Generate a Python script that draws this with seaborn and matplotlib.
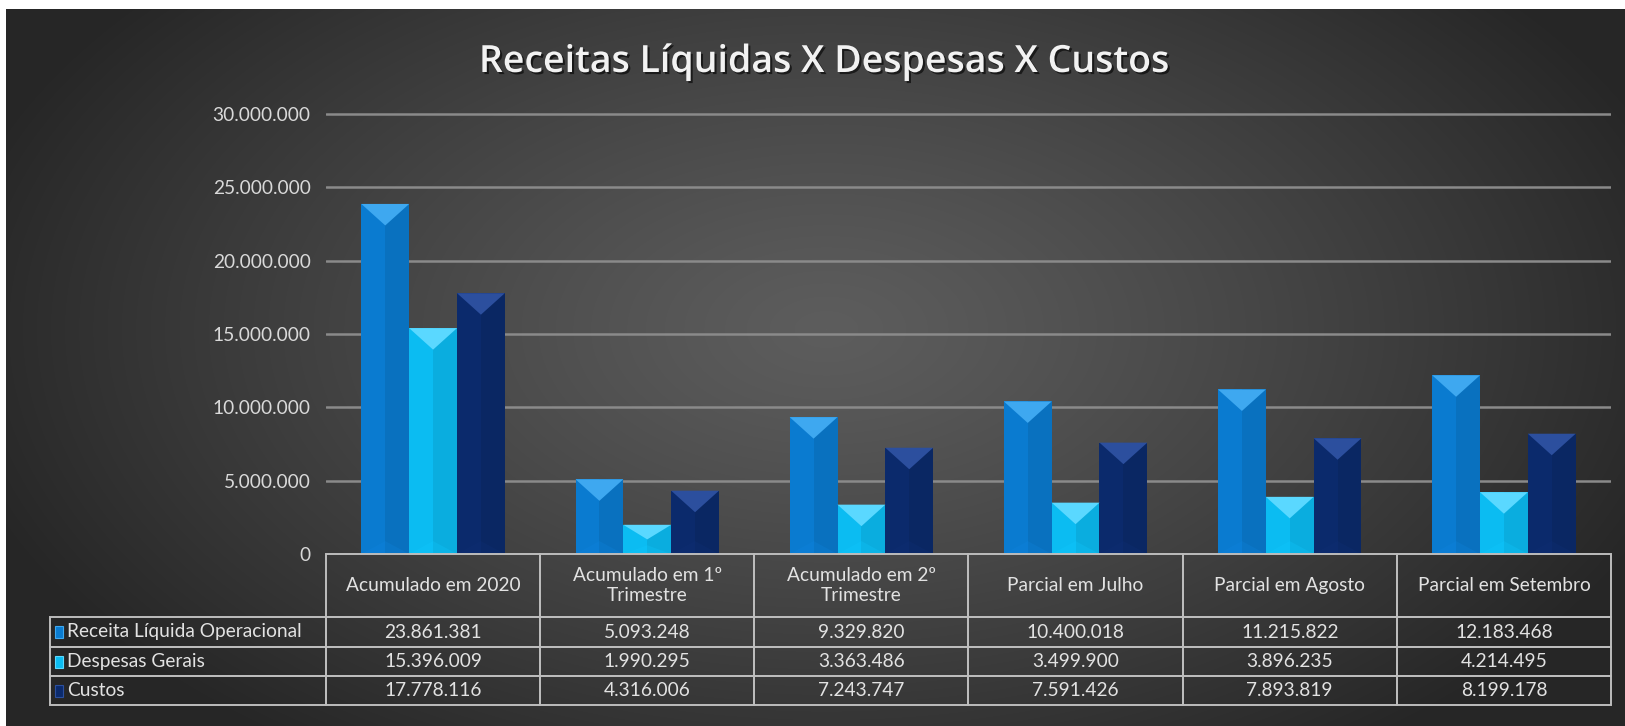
import numpy as np
import pandas as pd
import seaborn as sns
import matplotlib.pyplot as plt
import matplotlib.patheffects as pe
from matplotlib.table import Table
from matplotlib.patches import Rectangle, Polygon
from matplotlib.ticker import FuncFormatter
from matplotlib.colors import to_rgb

# data
periodos = ["Acumulado em 2020", "Acumulado em 1º\nTrimestre", "Acumulado em 2º\nTrimestre",
            "Parcial em Julho", "Parcial em Agosto", "Parcial em Setembro"]
series = ["Receita Líquida Operacional", "Despesas Gerais", "Custos"]
receita = [23861381, 5093248, 9329820, 10400018, 11215822, 12183468]
despesas = [15396009, 1990295, 3363486, 3499900, 3896235, 4214495]
custos = [17778116, 4316006, 7243747, 7591426, 7893819, 8199178]
cores = ["#0a7bd0", "#0bbcf2", "#0b2a6c"]
cores_topo = ["#3ea8f0", "#5ad8ff", "#2c4f9e"]

valores = [receita, despesas, custos]
df = pd.DataFrame({
    "periodo": periodos * 3,
    "serie": [s for s in series for _ in periodos],
    "valor": receita + despesas + custos,
})


def fmt(v):
    return f"{int(round(v)):,}".replace(",", ".")


sns.set_theme(style="dark")
plt.rcParams["font.family"] = ["Lato", "DejaVu Sans"]

W, H, DPI = 1625, 726, 100
FS = 13.8
fig = plt.figure(figsize=(W / DPI, H / DPI), dpi=DPI, facecolor="white")

# radial dark background, white margin top/left like the screenshot
bg = fig.add_axes([6 / W, 0, 1 - 6 / W, 1 - 9 / H], zorder=-10)
yy, xx = np.mgrid[0:H - 9, 0:W - 6]
d = np.sqrt(((xx - 820) / 900.0) ** 2 + ((yy - 320) / 520.0) ** 2)
t = np.clip(d, 0, 1) ** 1.2
c_in, c_out = np.array(to_rgb("#5d5d5d")), np.array(to_rgb("#262626"))
img = c_in[None, None, :] * (1 - t[..., None]) + c_out[None, None, :] * t[..., None]
bg.imshow(img, aspect="auto", interpolation="bilinear")
bg.axis("off")

# main axes
ax_l, ax_r = 326 / W, 1611 / W
ax_top_px, ax_bot_px = 108, 554
ax = fig.add_axes([ax_l, 1 - ax_bot_px / H, ax_r - ax_l, (ax_bot_px - ax_top_px) / H])
ax.set_facecolor("none")

sns.barplot(data=df, x="periodo", y="valor", hue="serie", hue_order=series,
            palette=cores, saturation=1, width=0.67, errorbar=None,
            legend=False, ax=ax, zorder=3, linewidth=0, edgecolor="none")

ax.set_ylim(0, 30.4e6)
ax.set_xlim(-0.5, len(periodos) - 0.5)
ax.set_yticks(np.arange(0, 30e6 + 1, 5e6))
ax.yaxis.set_major_formatter(FuncFormatter(lambda v, p: fmt(v)))
ax.tick_params(axis="y", length=0, pad=11, labelsize=FS, labelcolor="#d9d9d9")
ax.set_xticks([])
ax.set_xlabel("")
ax.set_ylabel("")
for s in ax.spines.values():
    s.set_visible(False)
ax.grid(False)
for v in np.arange(5e6, 30e6 + 1, 5e6):
    ax.axhline(v, color="#8a8a8a", lw=1.8, zorder=1)

# bevel effect on the bars
px_per_y = ax.transData.transform((0, 1e6))[1] - ax.transData.transform((0, 0))[1]
px_per_x = ax.transData.transform((1, 0))[0] - ax.transData.transform((0, 0))[0]
for bar in list(ax.patches):
    fc = np.array(bar.get_facecolor()[:3])
    i = int(np.argmin([np.sum((fc - np.array(to_rgb(c))) ** 2) for c in cores]))
    x, w, h = bar.get_x(), bar.get_width(), bar.get_height()
    dep = 0.45 * w * px_per_x / px_per_y * 1e6
    dep = min(dep, h / 2)
    dark = np.array(to_rgb(cores[i])) * 0.92
    ax.add_patch(Rectangle((x + w / 2, 0), w / 2, h, color=dark, lw=0, zorder=3.1))
    ax.add_patch(Polygon([(x, h), (x + w, h), (x + w / 2, h - dep)], closed=True,
                         color=cores_topo[i], lw=0, zorder=3.2))
    light = np.clip(np.array(to_rgb(cores[i])) * 1.05 + 0.02, 0, 1)
    ax.add_patch(Polygon([(x, 0), (x + w, 0), (x + w / 2, dep * 0.6)], closed=True,
                         color=light, lw=0, alpha=0.25, zorder=3.2))

# title
fig.text(0.507, 1 - 62 / H, "Receitas Líquidas X Despesas X Custos", ha="center", va="center",
         fontsize=27, fontweight="semibold", color="#f2f2f2", family=["Open Sans", "DejaVu Sans"],
         path_effects=[pe.SimplePatchShadow(offset=(1.5, -1.5), shadow_rgbFace="black", alpha=0.6),
                       pe.Normal()])

# data table under the axes
ax_w_px = (ax_r - ax_l) * W
ax_h_px = ax_bot_px - ax_top_px
tab_left_px, tab_bot_px = 50, 705
lab_w, col_w = 276, ax_w_px / len(periodos)
row_h = [63, 30, 29, 29]
tb = Table(ax, bbox=[(tab_left_px - ax_l * W) / ax_w_px, -(tab_bot_px - ax_bot_px) / ax_h_px,
                     (ax_r * W - tab_left_px) / ax_w_px, (tab_bot_px - ax_bot_px) / ax_h_px])
tb.auto_set_font_size(False)
for c, p in enumerate(periodos):
    tb.add_cell(0, c + 1, col_w, row_h[0], text=p, loc="center")
for r, s in enumerate(series):
    cell = tb.add_cell(r + 1, 0, lab_w, row_h[r + 1], text=s, loc="left")
    cell.PAD = 0.062
    for c in range(len(periodos)):
        tb.add_cell(r + 1, c + 1, col_w, row_h[r + 1], text=fmt(valores[r][c]), loc="center")
for cell in tb.get_celld().values():
    cell.set_facecolor("none")
    cell.set_edgecolor("#bdbdbd")
    cell.set_linewidth(1.4)
    cell.get_text().set_color("#e2e2e2")
    cell.get_text().set_fontsize(FS)
    cell.get_text().set_linespacing(1.2)
tb.set_zorder(5)
ax.add_table(tb)

# legend keys inside the row label cells
y_px = tab_bot_px
for r in range(len(series) - 1, -1, -1):
    rh = row_h[r + 1]
    cy = y_px - rh / 2
    kx = (55 - ax_l * W) / ax_w_px
    ky = -(cy + 6 - ax_bot_px) / ax_h_px
    ax.add_patch(Rectangle((kx, ky), 8 / ax_w_px, 12 / ax_h_px, transform=ax.transAxes,
                           facecolor=cores[r], edgecolor=cores_topo[r], lw=0.8,
                           clip_on=False, zorder=6))
    y_px -= rh

fig.savefig("out.png", dpi=DPI, facecolor=fig.get_facecolor())
